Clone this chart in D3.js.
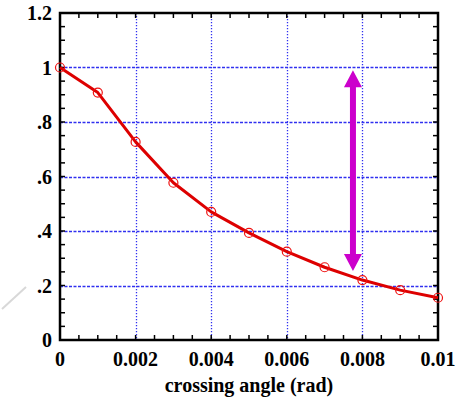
<!DOCTYPE html>
<html>
<head>
<meta charset="utf-8">
<script src="https://cdn.jsdelivr.net/npm/d3@7"></script>
<style>
  body { margin: 0; background: #fff; }
  svg { display: block; }
</style>
</head>
<body>
<div id="chart"></div>
<script>
// crossing angle (rad) vs relative value
const angles = [0, 0.001, 0.002, 0.003, 0.004, 0.005, 0.006, 0.007, 0.008, 0.009, 0.01];
const values = [1.0, 0.908, 0.727, 0.577, 0.47, 0.393, 0.324, 0.267, 0.22, 0.183, 0.155];
const xTicks = [0, 0.002, 0.004, 0.006, 0.008, 0.01];
const xTickLabels = ["0", "0.002", "0.004", "0.006", "0.008", "0.01"];
const yTicks = [0, 0.2, 0.4, 0.6, 0.8, 1, 1.2];
const yTickLabels = ["0", ".2", ".4", ".6", ".8", "1", "1.2"];
const arrowX = [0.00775];
const arrowY = [0.99, 0.253];

const width = 460, height = 399;
const plotL = 60, plotR = 438, plotT = 13, plotB = 340;
const serif = "'Liberation Serif', 'DejaVu Serif', 'Times New Roman', serif";

const x = d3.scaleLinear().domain([0, 0.01]).range([plotL, plotR]);
const y = d3.scaleLinear().domain([0, 1.2]).range([plotB, plotT]);

const svg = d3.select("#chart").append("svg")
  .attr("width", width).attr("height", height);

// faint stray line at the lower left
svg.append("line")
  .attr("x1", 2).attr("y1", 309).attr("x2", 26).attr("y2", 287)
  .attr("stroke", "#d8d8d8").attr("stroke-width", 2);

// grid
svg.append("g").selectAll("line")
  .data(xTicks.slice(1, -1))
  .enter().append("line")
  .attr("x1", d => Math.round(x(d)) + 0.5).attr("x2", d => Math.round(x(d)) + 0.5)
  .attr("y1", plotT).attr("y2", plotB)
  .attr("stroke", "#3030f0").attr("stroke-width", 1.3)
  .attr("stroke-dasharray", "1.3,1.7");

svg.append("g").selectAll("line")
  .data(yTicks.slice(1, -1))
  .enter().append("line")
  .attr("x1", plotL).attr("x2", plotR)
  .attr("y1", d => Math.round(y(d)) + 0.5).attr("y2", d => Math.round(y(d)) + 0.5)
  .attr("stroke", "#3030f0").attr("stroke-width", 1.3)
  .attr("stroke-dasharray", "3,1.5");

// inward ticks on all four sides
const xMinor = d3.range(0, 0.01 + 1e-9, 0.0005);
const yMinor = d3.range(0, 1.2 + 1e-9, 0.05);

const tickG = svg.append("g").attr("stroke", "#000").attr("stroke-width", 1.5);
xMinor.forEach(d => {
  tickG.append("line").attr("x1", x(d)).attr("x2", x(d)).attr("y1", plotB).attr("y2", plotB - 5);
  tickG.append("line").attr("x1", x(d)).attr("x2", x(d)).attr("y1", plotT).attr("y2", plotT + 5);
});
yMinor.forEach(d => {
  tickG.append("line").attr("x1", plotL).attr("x2", plotL + 5).attr("y1", y(d)).attr("y2", y(d));
  tickG.append("line").attr("x1", plotR).attr("x2", plotR - 5).attr("y1", y(d)).attr("y2", y(d));
});

// frame
svg.append("rect")
  .attr("x", plotL).attr("y", plotT)
  .attr("width", plotR - plotL).attr("height", plotB - plotT)
  .attr("fill", "none").attr("stroke", "#000").attr("stroke-width", 2.5);

// tick labels
svg.append("g").selectAll("text")
  .data(xTicks)
  .enter().append("text")
  .attr("font-family", serif).attr("font-weight", "bold").attr("font-size", 20)
  .attr("x", d => x(d)).attr("y", plotB + 26)
  .attr("text-anchor", "middle")
  .text((d, i) => xTickLabels[i]);

svg.append("g").selectAll("text")
  .data(yTicks)
  .enter().append("text")
  .attr("font-family", serif).attr("font-weight", "bold").attr("font-size", 20)
  .attr("x", plotL - 8).attr("y", d => y(d) + 7)
  .attr("text-anchor", "end")
  .text((d, i) => yTickLabels[i]);

svg.append("text")
  .attr("font-family", serif).attr("font-weight", "bold").attr("font-size", 20)
  .attr("x", 249).attr("y", 392)
  .attr("text-anchor", "middle")
  .text("crossing angle (rad)");

// data curve
const pts = angles.map((a, i) => [a, values[i]]);
const line = d3.line()
  .x(d => x(d[0])).y(d => y(d[1]));

svg.append("path")
  .datum(pts)
  .attr("d", line)
  .attr("fill", "none")
  .attr("stroke", "#dd0000")
  .attr("stroke-width", 3)
  .attr("stroke-linejoin", "round");

svg.append("g").selectAll("circle")
  .data(pts)
  .enter().append("circle")
  .attr("cx", d => x(d[0])).attr("cy", d => y(d[1]))
  .attr("r", 4.5)
  .attr("fill", "none")
  .attr("stroke", "#ee1111")
  .attr("stroke-width", 1.2);

// double-headed magenta arrow
const ax = x(arrowX[0]), ay1 = y(arrowY[0]), ay2 = y(arrowY[1]);
const headL = 17, headW = 9, shaftW = 3;
const arrowPath = d3.path();
arrowPath.moveTo(ax, ay1);
arrowPath.lineTo(ax + headW, ay1 + headL);
arrowPath.lineTo(ax + shaftW, ay1 + headL);
arrowPath.lineTo(ax + shaftW, ay2 - headL);
arrowPath.lineTo(ax + headW, ay2 - headL);
arrowPath.lineTo(ax, ay2);
arrowPath.lineTo(ax - headW, ay2 - headL);
arrowPath.lineTo(ax - shaftW, ay2 - headL);
arrowPath.lineTo(ax - shaftW, ay1 + headL);
arrowPath.lineTo(ax - headW, ay1 + headL);
arrowPath.closePath();

svg.append("path")
  .attr("d", arrowPath.toString())
  .attr("fill", "#cc00cc");
</script>
</body>
</html>
